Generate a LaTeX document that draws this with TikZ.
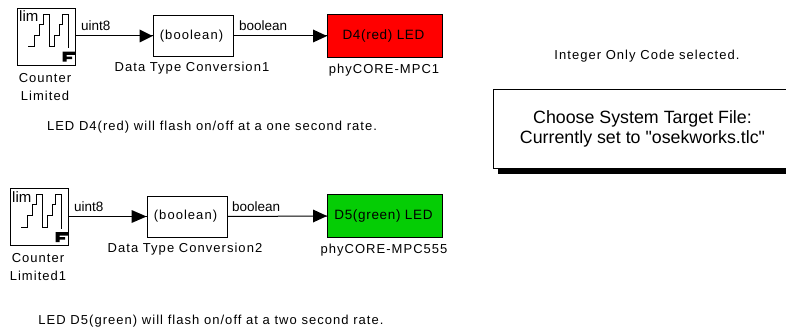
\documentclass[tikz,border=0pt]{standalone}
\usepackage{fontspec}
\setmainfont{Liberation Sans}
\newfontfamily\plainq{Liberation Sans}
\definecolor{ledred}{RGB}{255,0,0}
\definecolor{ledgreen}{RGB}{5,205,5}
\newcommand{\sysfont}{\fontsize{13}{18.7}\selectfont\addfontfeatures{LetterSpace=8}}
\newcommand{\ledfont}{\fontsize{13.5}{16}\selectfont\addfontfeatures{LetterSpace=5}}
\newcommand{\sigfont}{\fontsize{13.5}{16}\selectfont}
\newcommand{\bigfont}{\plainq\fontsize{17.8}{20}\selectfont}
\tikzset{
  block/.style={draw=black,line width=0.9pt,fill=white,inner sep=0pt,align=center,font=\sysfont},
  led/.style={block,line width=1pt,font=\ledfont},
  lbl/.style={inner sep=0pt,align=center,font=\sysfont},
  siglbl/.style={inner sep=0pt,font=\sigfont},
  sig/.style={line width=1pt,draw=black},
  tip/.style={fill=black,draw=none}
}
\newcommand{\counterblock}[3]{%
  \node[block,minimum width=58pt,minimum height=57pt] (#1) at (#2,#3) {};
  \begin{scope}[shift={(#2-29,#3-28.5)}]
    \draw[line width=0.9pt] (11.3,38.7) -- (17,38.7) -- (17,27) -- (22.3,27) -- (22.3,16) -- (26,16) -- (26,6.3) -- (32.3,6.3) -- (32.3,38.7) -- (37,38.7) -- (37,27) -- (42,27) -- (42,16) -- (45.7,16) -- (45.7,6.3) -- (51.3,6.3) -- (51.3,40);
    \node[inner sep=0pt,anchor=base west,font=\fontsize{15}{16}\selectfont] at (2,14) {lim};
    \fill (45.7,43.7) rectangle (58,47) (45.7,47) rectangle (49.7,53.7) (49.7,48.6) rectangle (55,51);
  \end{scope}}
\begin{document}
\begin{tikzpicture}[x=1pt,y=-1pt]
\useasboundingbox (0,0) rectangle (786,329);
% top row
\counterblock{c1}{46}{36.5}
\node[block,minimum width=80pt,minimum height=41pt] (d1) at (193,36) {(boolean)\hspace*{3pt}};
\node[led,fill=ledred,minimum width=115pt,minimum height=43pt] (l1) at (385,36) {D4(red) LED\hspace*{3pt}};
\draw[sig] (c1.east |- d1) -- (d1.west);
\draw[sig] (d1.east) -- (l1.west);
\fill[tip] (d1.west) -- ++(-13,-6.5) -- ++(0,13) -- cycle;
\fill[tip] (l1.west) -- ++(-14,-6.5) -- ++(0,13) -- cycle;
\node[siglbl,anchor=base west] (u1) at (81,31) {uint8};
\node[siglbl,anchor=base west] (b1) at (239,31) {boolean};
\node[lbl] (t1) at (45,87) {Counter\\Limited};
\node[lbl] (t2) at (192,68.5) {Data Type Conversion1};
\node[lbl] (t3) at (384,70) {phyCORE-MPC1};
\node[lbl] (t4) at (212,127) {LED D4(red) will flash on/off at a one second rate.};
% bottom row
\counterblock{c2}{39}{217}
\node[block,minimum width=80pt,minimum height=41pt] (d2) at (187,216.5) {(boolean)\hspace*{3pt}};
\node[led,fill=ledgreen,minimum width=115pt,minimum height=43pt] (l2) at (385,216) {D5(green) LED\hspace*{3pt}};
\draw[sig] (c2.east |- d2) -- (d2.west);
\draw[sig] (d2.east) -- (l2.west);
\fill[tip] (d2.west) -- ++(-15,-6.5) -- ++(0,13) -- cycle;
\fill[tip] (l2.west) -- ++(-14,-6.5) -- ++(0,13) -- cycle;
\node[siglbl,anchor=base west] (u2) at (74,211.5) {uint8};
\node[siglbl,anchor=base west] (b2) at (232,211.5) {boolean};
\node[lbl] (t5) at (38,267) {Counter\\Limited1};
\node[lbl] (t6) at (185,249) {Data Type Conversion2};
\node[lbl] (t7) at (384,250.5) {phyCORE-MPC555};
\node[lbl] (t8) at (211,321) {LED D5(green) will flash on/off at a two second rate.};
% right
\node[lbl] (t9) at (647,56) {Integer Only Code selected.};
\fill (498,94) rectangle (792,174);
\node[block,minimum width=299pt,minimum height=79pt,font=\bigfont] (s) at (642.5,128.5) {Choose System Target File:\\Currently set to "osekworks.tlc"};
\end{tikzpicture}
\end{document}
